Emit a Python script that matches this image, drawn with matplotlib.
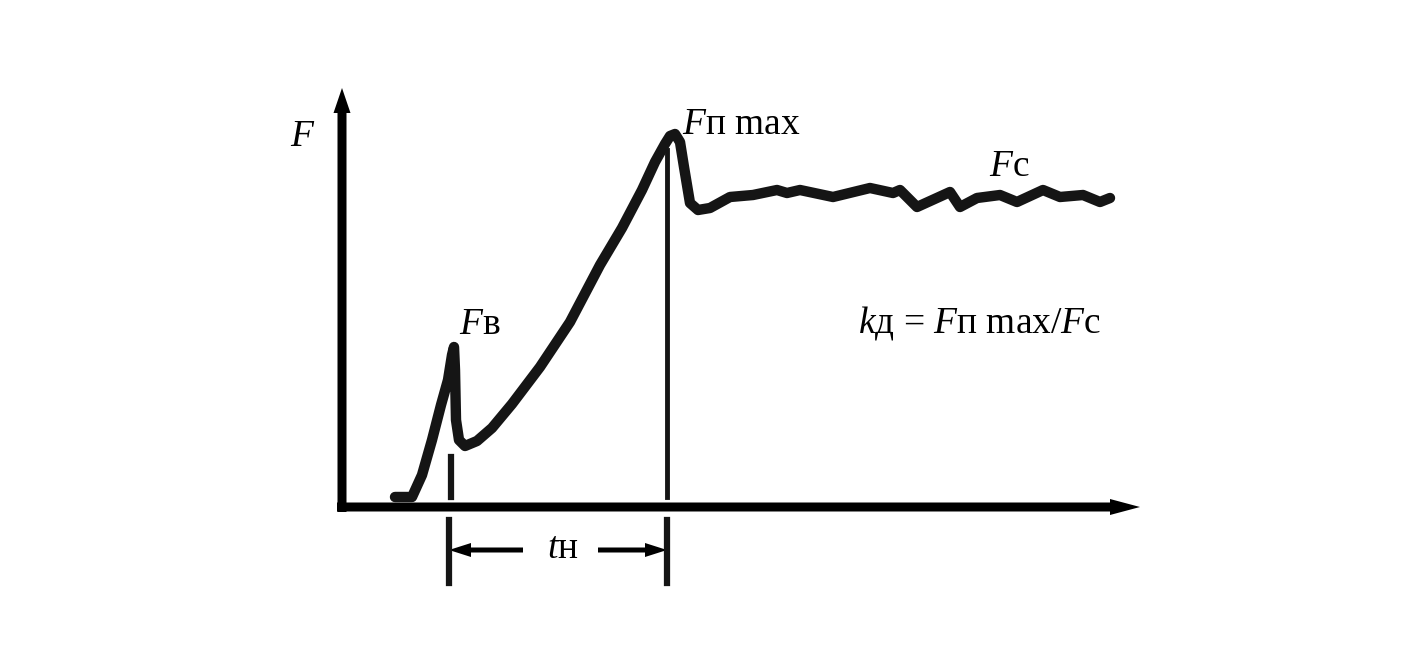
import matplotlib
matplotlib.use("Agg")
import matplotlib.pyplot as plt

plt.rcParams['font.family'] = ['Liberation Serif', 'DejaVu Serif']
plt.rcParams['mathtext.fontset'] = 'custom'
plt.rcParams['mathtext.rm'] = 'Liberation Serif'
plt.rcParams['mathtext.it'] = 'Liberation Serif:italic'

# кривая усилия F(t), условные единицы
t = [0.53, 0.70, 0.80, 0.90, 0.99, 1.06, 1.10, 1.12, 1.13, 1.14, 1.17, 1.23,
     1.35, 1.50, 1.70, 1.98, 2.28, 2.58, 2.80, 3.00, 3.13, 3.23, 3.28, 3.33, 3.38,
     3.42, 3.48, 3.56, 3.68, 3.88, 4.11, 4.35, 4.45, 4.58, 4.91, 5.28, 5.51,
     5.58, 5.75, 6.08, 6.18, 6.35, 6.58, 6.75, 7.01, 7.18, 7.41, 7.58, 7.68]
F = [0.10, 0.10, 0.32, 0.67, 1.02, 1.27, 1.52, 1.60, 1.37, 0.87, 0.67, 0.61,
     0.66, 0.79, 1.03, 1.40, 1.85, 2.42, 2.79, 3.17, 3.45, 3.63, 3.71, 3.73, 3.65,
     3.40, 3.04, 2.97, 2.99, 3.10, 3.12, 3.17, 3.14, 3.17, 3.10, 3.19, 3.14,
     3.17, 3.00, 3.15, 3.00, 3.09, 3.12, 3.05, 3.17, 3.10, 3.12, 3.05, 3.09]

t_v = 1.09      # момент Fв
t_pmax = 3.25   # момент Fп max
F_pmax = 3.57

fig = plt.figure(figsize=(14.16, 6.72), dpi=100)
ax = fig.add_axes([0, 0, 1, 1])
ax.set_xlim(-3.42, 10.74)
ax.set_ylim(-1.65, 5.07)
ax.axis('off')

# оси
ax.arrow(0, -0.05, 0, 4.24, width=0.09, head_width=0.17, head_length=0.25,
         length_includes_head=True, color='black', lw=0)
ax.arrow(-0.05, 0, 8.03, 0, width=0.09, head_width=0.16, head_length=0.30,
         length_includes_head=True, color='black', lw=0)

ax.plot(t, F, color='#151515', lw=7.5, solid_capstyle='round', solid_joinstyle='round')

# вертикальные отметки
ax.plot([t_v, t_v], [0.10, 0.50], color='#151515', lw=4.5)
ax.plot([t_pmax, t_pmax], [0.10, F_pmax], color='#151515', lw=3.5)
for x in (t_v - 0.02, t_pmax):
    ax.plot([x, x], [-0.13, -0.76], color='#151515', lw=4.5)

# размер tн
ax.arrow(1.81, -0.43, t_v - 0.02 - 1.81, 0, width=0.05, head_width=0.14,
         head_length=0.22, length_includes_head=True, color='black', lw=0)
ax.arrow(2.56, -0.43, t_pmax - 2.56, 0, width=0.05, head_width=0.14,
         head_length=0.22, length_includes_head=True, color='black', lw=0)

fs = 27
ax.text(-0.39, 3.70, '$F$', fontsize=fs, ha='center', va='center')
ax.text(1.17, 1.82, '$F$в', fontsize=fs, ha='left', va='center')
ax.text(3.40, 3.82, '$F$п max', fontsize=fs, ha='left', va='center')
ax.text(6.47, 3.40, '$F$с', fontsize=fs, ha='left', va='center')
ax.text(5.16, 1.84, '$k$д = $F$п max/$F$с', fontsize=fs, ha='left', va='center')
ax.text(2.21, -0.42, '$t$н', fontsize=fs, ha='center', va='center')

fig.savefig('out.png', dpi=100)
